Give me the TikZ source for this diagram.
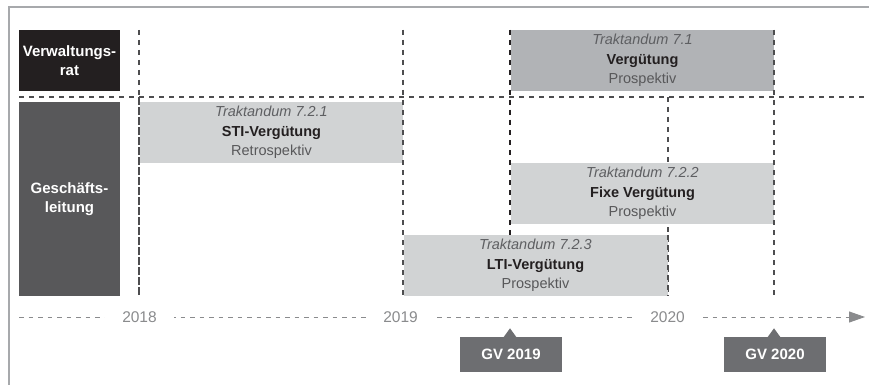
\documentclass[tikz,border=0pt]{standalone}
\usepackage{fontspec}
\setmainfont{Liberation Sans}
\usetikzlibrary{arrows.meta}

\definecolor{inkblack}{HTML}{231F20}
\definecolor{rowgray}{HTML}{58585A}
\definecolor{midgray}{HTML}{B1B3B6}
\definecolor{lightgray}{HTML}{D1D3D4}
\definecolor{calloutgray}{HTML}{6D6E71}
\definecolor{framegray}{HTML}{A7A9AC}
\definecolor{axisgray}{HTML}{8A8B8D}
\definecolor{gridgray}{HTML}{4D4D4F}
\definecolor{captiongray}{HTML}{5E5F62}

\tikzset{
  rowlabel/.style={rectangle, inner sep=0pt, minimum width=101pt, text=white,
    align=center, font=\bfseries\fontsize{15}{19}\selectfont},
  agenda/.style={rectangle, inner sep=0pt, minimum height=61pt, align=center,
    text=rowgray, font=\fontsize{14.5}{19.5}\selectfont},
  gridline/.style={draw=gridgray, line width=1.2pt, dash pattern=on 5pt off 5pt},
  keyline/.style={draw=inkblack, line width=1.8pt, dash pattern=on 5pt off 5pt},
  axisline/.style={draw=axisgray, line width=0.9pt, dash pattern=on 4.5pt off 5pt},
  yearlabel/.style={fill=white, inner xsep=17pt, inner ysep=2pt, text=axisgray,
    font=\fontsize{15.5}{18}\selectfont},
  gvbox/.style={rectangle, fill=calloutgray, inner sep=0pt, minimum width=102pt,
    minimum height=35pt, text=white, font=\bfseries\fontsize{15}{18}\selectfont},
}
\newcommand{\agendaitem}[3]{{\color{captiongray}\itshape #1}\\{\color{inkblack}\bfseries #2}\\#3}

\begin{document}
\begin{tikzpicture}[x=1pt, y=-1pt]
\useasboundingbox (0,0) rectangle (869,385);

% outer frame (top and left edges)
\draw[framegray, line width=1.5pt] (9,385) -- (9,7) -- (869,7);

% row headers
\node[rowlabel, fill=inkblack, minimum height=61pt] (board) at (69.5,60.5) {Verwaltungs-\\rat};
\node[rowlabel, fill=rowgray, minimum height=194pt] (mgmt) at (69.5,199) {Geschäfts-\\leitung};

% grid: row separator and period markers (hidden behind the item boxes)
\draw[gridline] (19,97) -- (869,97);
\draw[gridline] (139,30) -- (139,296);
\draw[gridline] (403,30) -- (403,296);
\draw[gridline] (668,97) -- (668,296);
\draw[gridline] (774,30) -- (774,296);
\draw[keyline] (510,30) -- (510,235);

% agenda items
\node[agenda, fill=midgray, minimum width=263pt] (a71) at (642.5,60.5)
  {\agendaitem{Traktandum 7.1}{Vergütung}{Prospektiv}};
\node[agenda, fill=lightgray, minimum width=263pt] (a721) at (271.5,132.5)
  {\agendaitem{Traktandum 7.2.1}{STI-Vergütung}{Retrospektiv}};
\node[agenda, fill=lightgray, minimum width=263pt] (a722) at (642.5,193.5)
  {\agendaitem{Traktandum 7.2.2}{Fixe Vergütung}{Prospektiv}};
\node[agenda, fill=lightgray, minimum width=264pt] (a723) at (535.5,265.5)
  {\agendaitem{Traktandum 7.2.3}{LTI-Vergütung}{Prospektiv}};

% marker segments that stay visible along the box edges
\draw[gridline] (139,97) -- (139,296);
\draw[gridline] (403,30) -- (403,296);
\draw[gridline] (774,30) -- (774,296);
\draw[gridline] (668,235) -- (668,296);
\draw[keyline] (510,30) -- (510,225);

% time axis
\coordinate (axisstart) at (19,317);
\coordinate (axisend) at (865,317);
\draw[axisline, -{Triangle[length=16pt, width=11pt]}] (axisstart) -- (axisend);
\node[yearlabel] (y2018) at (139.5,317) {2018};
\node[yearlabel] (y2019) at (400.5,317) {2019};
\node[yearlabel] (y2020) at (667.5,317) {2020};

% general meeting callouts
\node[gvbox] (gv19) at (511,354.5) {GV 2019};
\fill[calloutgray] (gv19.north) ++(-7.5,0.5) -- ++(6.5,-9) -- ++(6.5,9) -- cycle;
\node[gvbox] (gv20) at (775,354.5) {GV 2020};
\fill[calloutgray] (gv20.north) ++(-7.5,0.5) -- ++(6.5,-9) -- ++(6.5,9) -- cycle;
\end{tikzpicture}
\end{document}
